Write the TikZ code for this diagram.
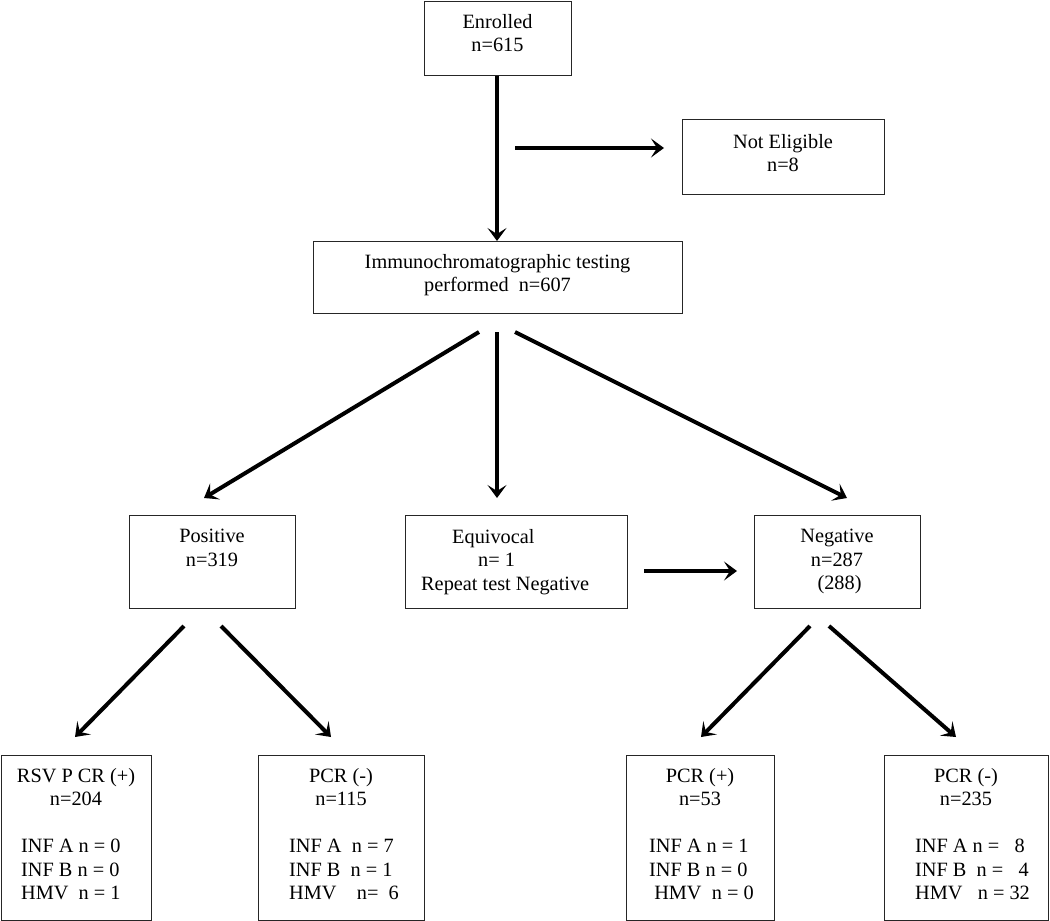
\documentclass[tikz,border=0pt]{standalone}
\usepackage{fontspec}
\setmainfont{Liberation Serif}
\usetikzlibrary{arrows.meta}
\begin{document}
\begin{tikzpicture}[x=1pt,y=-1pt,
  box/.style={draw=black!85, line width=1.4pt, rectangle, anchor=north west, inner sep=0pt},
  txt/.style={font=\fontsize{20.3}{23.5}\selectfont, align=center, inner sep=0pt, anchor=north},
  stat/.style={font=\fontsize{20.3}{23.5}\selectfont, align=left, inner sep=0pt, anchor=north west},
  arr/.style={line width=4pt, -{Stealth[length=13pt,width=19pt,inset=6pt]}}]
\useasboundingbox (0,0) rectangle (1050,921);
% boxes
\node[box, minimum width=147pt, minimum height=74pt] (enr) at (424,1) {};
\node[txt] (enrt) at (497.5,14) {Enrolled\\n=615};
\node[box, minimum width=202pt, minimum height=75pt] (ne) at (682,119) {};
\node[txt] (net) at (783,134) {Not Eligible\\n=8};
\node[box, minimum width=369pt, minimum height=72pt] (imm) at (313,241) {};
\node[txt] (immt) at (497.5,254) {Immunochromatographic testing\\performed\ \ n=607};
\node[box, minimum width=166pt, minimum height=93pt] (pos) at (129,515) {};
\node[txt] (post) at (212,529) {Positive\\n=319};
\node[box, minimum width=222pt, minimum height=93pt] (equ) at (405,515) {};
\node[stat] (equt) at (421,529) {\hspace*{31pt}Equivocal\\\hspace*{57pt}n= 1\\Repeat test Negative};
\node[box, minimum width=166pt, minimum height=93pt] (neg) at (754,515) {};
\node[txt] (negt) at (837,529) {Negative\\n=287\\\ (288)};
% bottom boxes
\node[box, minimum width=150pt, minimum height=165pt] (b1) at (1,755) {};
\node[txt] (b1t) at (76,768) {RSV P CR (+)\\n=204};
\node[stat] (b1s) at (21,839) {INF A n = 0\\INF B n = 0\\HMV\ \ n = 1};
\node[box, minimum width=166pt, minimum height=165pt] (b2) at (258,755) {};
\node[txt] (b2t) at (341,768) {PCR (-)\\n=115};
\node[stat] (b2s) at (289,839) {INF A\ \ n = 7\\INF B\ \ n = 1\\HMV\ \ \ \ n=\ \ 6};
\node[box, minimum width=148pt, minimum height=165pt] (b3) at (626,755) {};
\node[txt] (b3t) at (700,768) {PCR (+)\\n=53};
\node[stat] (b3s) at (649,839) {INF A n = 1\\INF B n = 0\\\ HMV\ \ n = 0};
\node[box, minimum width=164pt, minimum height=165pt] (b4) at (884,755) {};
\node[txt] (b4t) at (966,768) {PCR (-)\\n=235};
\node[stat] (b4s) at (915,839) {INF A n =\ \ \ 8\\INF B\ \ n =\ \ \ 4\\HMV\ \ \ n = 32};
% connector coordinates
\coordinate (h1) at (515,148);
\coordinate (h1e) at (664,148);
\coordinate (s1) at (479,332);
\coordinate (e1) at (204,498);
\coordinate (s2) at (497,332);
\coordinate (e2) at (497,498);
\coordinate (s3) at (515,332);
\coordinate (e3) at (847,498);
\coordinate (q1) at (644,571);
\coordinate (q1e) at (737,571);
\coordinate (p1) at (184,626);
\coordinate (p1e) at (75,737);
\coordinate (p2) at (221,626);
\coordinate (p2e) at (331,737);
\coordinate (n1) at (810,626);
\coordinate (n1e) at (701,737);
\coordinate (n2) at (829,626);
\coordinate (n2e) at (956,737);
% arrows
\draw[arr] (enr.south -| 497,0) -- (imm.north -| 497,0);
\draw[arr] (h1) -- (h1e);
\draw[arr] (s1) -- (e1);
\draw[arr] (s2) -- (e2);
\draw[arr] (s3) -- (e3);
\draw[arr] (q1) -- (q1e);
\draw[arr] (p1) -- (p1e);
\draw[arr] (p2) -- (p2e);
\draw[arr] (n1) -- (n1e);
\draw[arr] (n2) -- (n2e);
\end{tikzpicture}
\end{document}
